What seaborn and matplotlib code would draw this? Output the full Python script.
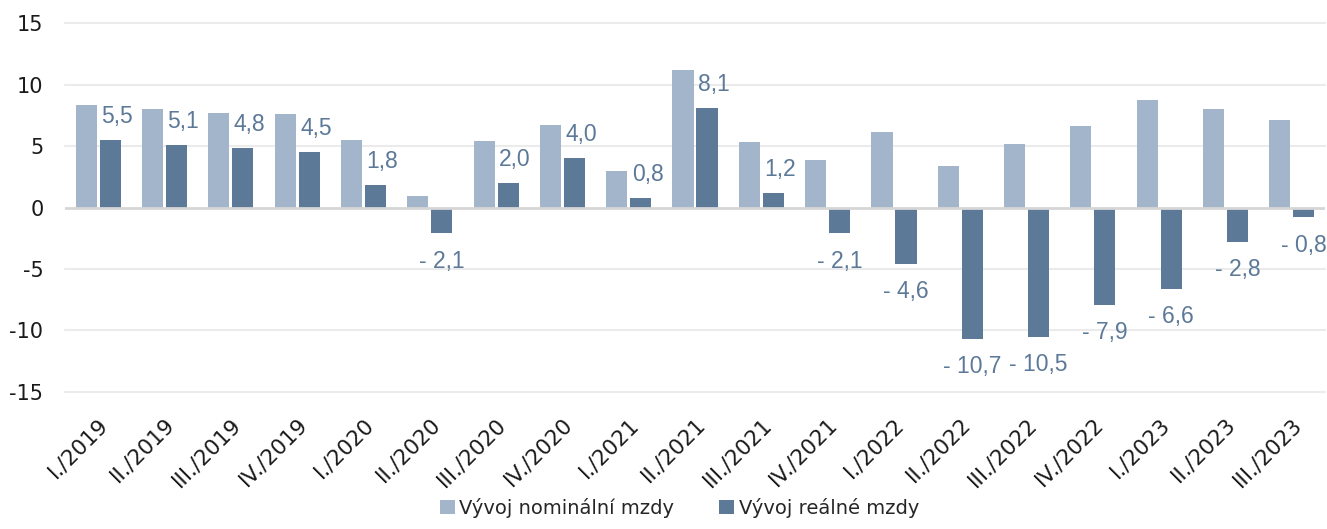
import matplotlib
matplotlib.use("Agg")
import matplotlib.pyplot as plt
import seaborn as sns
import pandas as pd
from matplotlib.patches import Patch

categories = ["I./2019", "II./2019", "III./2019", "IV./2019",
              "I./2020", "II./2020", "III./2020", "IV./2020",
              "I./2021", "II./2021", "III./2021", "IV./2021",
              "I./2022", "II./2022", "III./2022", "IV./2022",
              "I./2023", "II./2023", "III./2023"]
nominal = [8.3, 8.0, 7.7, 7.6, 5.5, 0.9, 5.4, 6.7, 3.0, 11.2, 5.3, 3.9,
           6.1, 3.4, 5.2, 6.6, 8.7, 8.0, 7.1]
real = [5.5, 5.1, 4.8, 4.5, 1.8, -2.1, 2.0, 4.0, 0.8, 8.1, 1.2, -2.1,
        -4.6, -10.7, -10.5, -7.9, -6.6, -2.8, -0.8]
series_names = ["Vývoj nominální mzdy", "Vývoj reálné mzdy"]
y_ticks = [-15, -10, -5, 0, 5, 10, 15]

light = "#A3B5CA"
dark = "#5D7998"

df = pd.DataFrame({
    "kategorie": categories * 2,
    "hodnota": nominal + real,
    "serie": [series_names[0]] * len(categories) + [series_names[1]] * len(categories),
})

sns.set_theme(style="white")
plt.rcParams["font.family"] = ["DejaVu Sans"]

fig = plt.figure(figsize=(13.27, 5.29), dpi=100)
ax = fig.add_axes([0.049, 0.259, 0.9495, 0.6975])

sns.barplot(data=df, x="kategorie", y="hodnota", hue="serie",
            order=categories, hue_order=series_names,
            palette=[light, dark], saturation=1, width=0.724, gap=0.12,
            linewidth=0, ax=ax, legend=False, errorbar=None)

ax.set_ylim(-15, 15)
ax.set_xlim(-0.5, len(categories) - 0.5)
ax.set_yticks(y_ticks)
ax.set_yticklabels([str(t) for t in y_ticks], fontsize=15, color="#1a1a1a")
for t in y_ticks:
    if t != 0:
        ax.axhline(t, color="#EBEBEB", lw=1.5, zorder=0, clip_on=False)
ax.axhline(0, color="#D6D6D6", lw=2, zorder=3)
ax.set_xlabel("")
ax.set_ylabel("")
for s in ax.spines.values():
    s.set_visible(False)
ax.tick_params(axis="y", length=0, pad=15.5)
ax.tick_params(axis="x", length=0, pad=16)
ax.set_xticks(range(len(categories)))
ax.set_xticklabels(categories, rotation=45, ha="right", va="top",
                   rotation_mode="anchor", fontsize=15.5, color="#1a1a1a")

# data labels for real wages
real_bars = ax.containers[1]
for bar, v in zip(real_bars, real):
    xc = bar.get_x() + bar.get_width() / 2
    txt = f"{abs(v):.1f}".replace(".", ",")
    if v < 0:
        txt = "- " + txt
        ax.annotate(txt, (xc, v), xytext=(0, -20), textcoords="offset points",
                    ha="center", va="center", fontsize=16.5, color=dark,
                    family="Liberation Sans", annotation_clip=False)
    else:
        ax.annotate(txt, (xc, v), xytext=(5, 17), textcoords="offset points",
                    ha="center", va="center", fontsize=16.5, color=dark,
                    family="Liberation Sans", annotation_clip=False)

handles = [Patch(facecolor=light, edgecolor="none"), Patch(facecolor=dark, edgecolor="none")]
fig.legend(handles, series_names, loc="lower center", bbox_to_anchor=(0.512, -0.012),
           ncol=2, frameon=False, fontsize=14, handlelength=0.75, handleheight=0.75,
           handletextpad=0.25, columnspacing=2.3)

fig.savefig("out.png", dpi=100)
